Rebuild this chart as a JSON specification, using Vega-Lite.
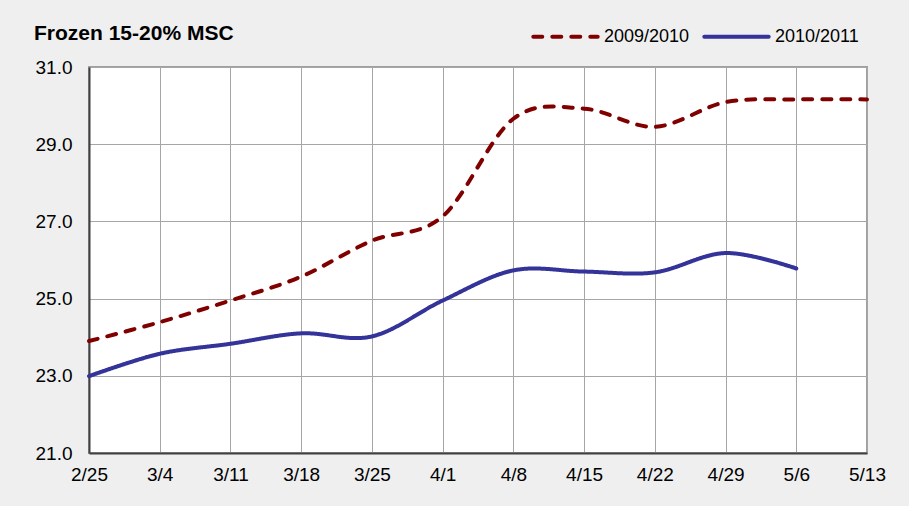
{
  "$schema": "https://vega.github.io/schema/vega-lite/v6.json",
  "width": 778,
  "height": 386,
  "autosize": "none",
  "padding": {"left": 89, "right": 42, "top": 67, "bottom": 53},
  "background": "#efefef",
  "title": {
    "text": "Frozen 15-20% MSC",
    "anchor": "start",
    "frame": "group",
    "dx": -55,
    "dy": 56,
    "offset": 14,
    "font": "Liberation Sans",
    "fontSize": 21,
    "fontWeight": "bold",
    "color": "#000000"
  },
  "data": {
    "values": [
      {"date": "2/25", "season": "2009/2010", "price": 23.9},
      {"date": "3/4", "season": "2009/2010", "price": 24.39},
      {"date": "3/11", "season": "2009/2010", "price": 24.95},
      {"date": "3/18", "season": "2009/2010", "price": 25.57},
      {"date": "3/25", "season": "2009/2010", "price": 26.5},
      {"date": "4/1", "season": "2009/2010", "price": 27.13},
      {"date": "4/8", "season": "2009/2010", "price": 29.66},
      {"date": "4/15", "season": "2009/2010", "price": 29.92},
      {"date": "4/22", "season": "2009/2010", "price": 29.45},
      {"date": "4/29", "season": "2009/2010", "price": 30.09},
      {"date": "5/6", "season": "2009/2010", "price": 30.16},
      {"date": "5/13", "season": "2009/2010", "price": 30.16},
      {"date": "2/25", "season": "2010/2011", "price": 22.99},
      {"date": "3/4", "season": "2010/2011", "price": 23.57},
      {"date": "3/11", "season": "2010/2011", "price": 23.83},
      {"date": "3/18", "season": "2010/2011", "price": 24.1},
      {"date": "3/25", "season": "2010/2011", "price": 24.02},
      {"date": "4/1", "season": "2010/2011", "price": 24.95},
      {"date": "4/8", "season": "2010/2011", "price": 25.73},
      {"date": "4/15", "season": "2010/2011", "price": 25.7},
      {"date": "4/22", "season": "2010/2011", "price": 25.68},
      {"date": "4/29", "season": "2010/2011", "price": 26.18},
      {"date": "5/6", "season": "2010/2011", "price": 25.78}
    ]
  },
  "mark": {"type": "line", "interpolate": "cardinal", "strokeWidth": 4, "strokeCap": "round"},
  "encoding": {
    "x": {
      "field": "date",
      "type": "ordinal",
      "sort": null,
      "scale": {"type": "point", "padding": 0},
      "axis": {
        "title": null,
        "labelAngle": 0,
        "labelFont": "Liberation Sans",
        "labelFontSize": 19,
        "labelColor": "#000000",
        "labelPadding": 12,
        "ticks": false,
        "grid": true,
        "gridColor": "#a6a6a6",
        "gridWidth": 1,
        "domainColor": "#404040",
        "domainWidth": 2
      }
    },
    "y": {
      "field": "price",
      "type": "quantitative",
      "scale": {"domain": [21, 31], "nice": false, "zero": false},
      "axis": {
        "title": null,
        "values": [21, 23, 25, 27, 29, 31],
        "format": ".1f",
        "labelFont": "Liberation Sans",
        "labelFontSize": 19,
        "labelColor": "#000000",
        "labelPadding": 17,
        "ticks": false,
        "grid": true,
        "gridColor": "#a6a6a6",
        "gridWidth": 1,
        "domainColor": "#404040",
        "domainWidth": 2
      }
    },
    "color": {
      "field": "season",
      "type": "nominal",
      "scale": {"domain": ["2009/2010", "2010/2011"], "range": ["#800000", "#333399"]},
      "legend": {
        "title": null,
        "orient": "none",
        "direction": "horizontal",
        "legendX": 442,
        "legendY": -65,
        "symbolType": "stroke",
        "symbolSize": 4150,
        "symbolStrokeWidth": 4,
        "labelFont": "Liberation Sans",
        "labelFontSize": 18,
        "labelColor": "#000000",
        "labelOffset": 4,
        "columnPadding": 6,
        "encode": {"symbols": {"update": {"strokeCap": {"value": "round"}}}}
      }
    },
    "strokeDash": {
      "field": "season",
      "type": "nominal",
      "scale": {"domain": ["2009/2010", "2010/2011"], "range": [[9, 10], [1, 0]]},
      "legend": {
        "title": null,
        "orient": "none",
        "direction": "horizontal",
        "legendX": 442,
        "legendY": -65,
        "symbolType": "stroke",
        "symbolSize": 4150,
        "symbolStrokeWidth": 4,
        "labelFont": "Liberation Sans",
        "labelFontSize": 18,
        "labelColor": "#000000",
        "labelOffset": 4,
        "columnPadding": 6,
        "encode": {"symbols": {"update": {"strokeCap": {"value": "round"}}}}
      }
    }
  },
  "config": {
    "view": {"fill": "#ffffff", "stroke": "#a0a0a0", "strokeWidth": 2}
  }
}
